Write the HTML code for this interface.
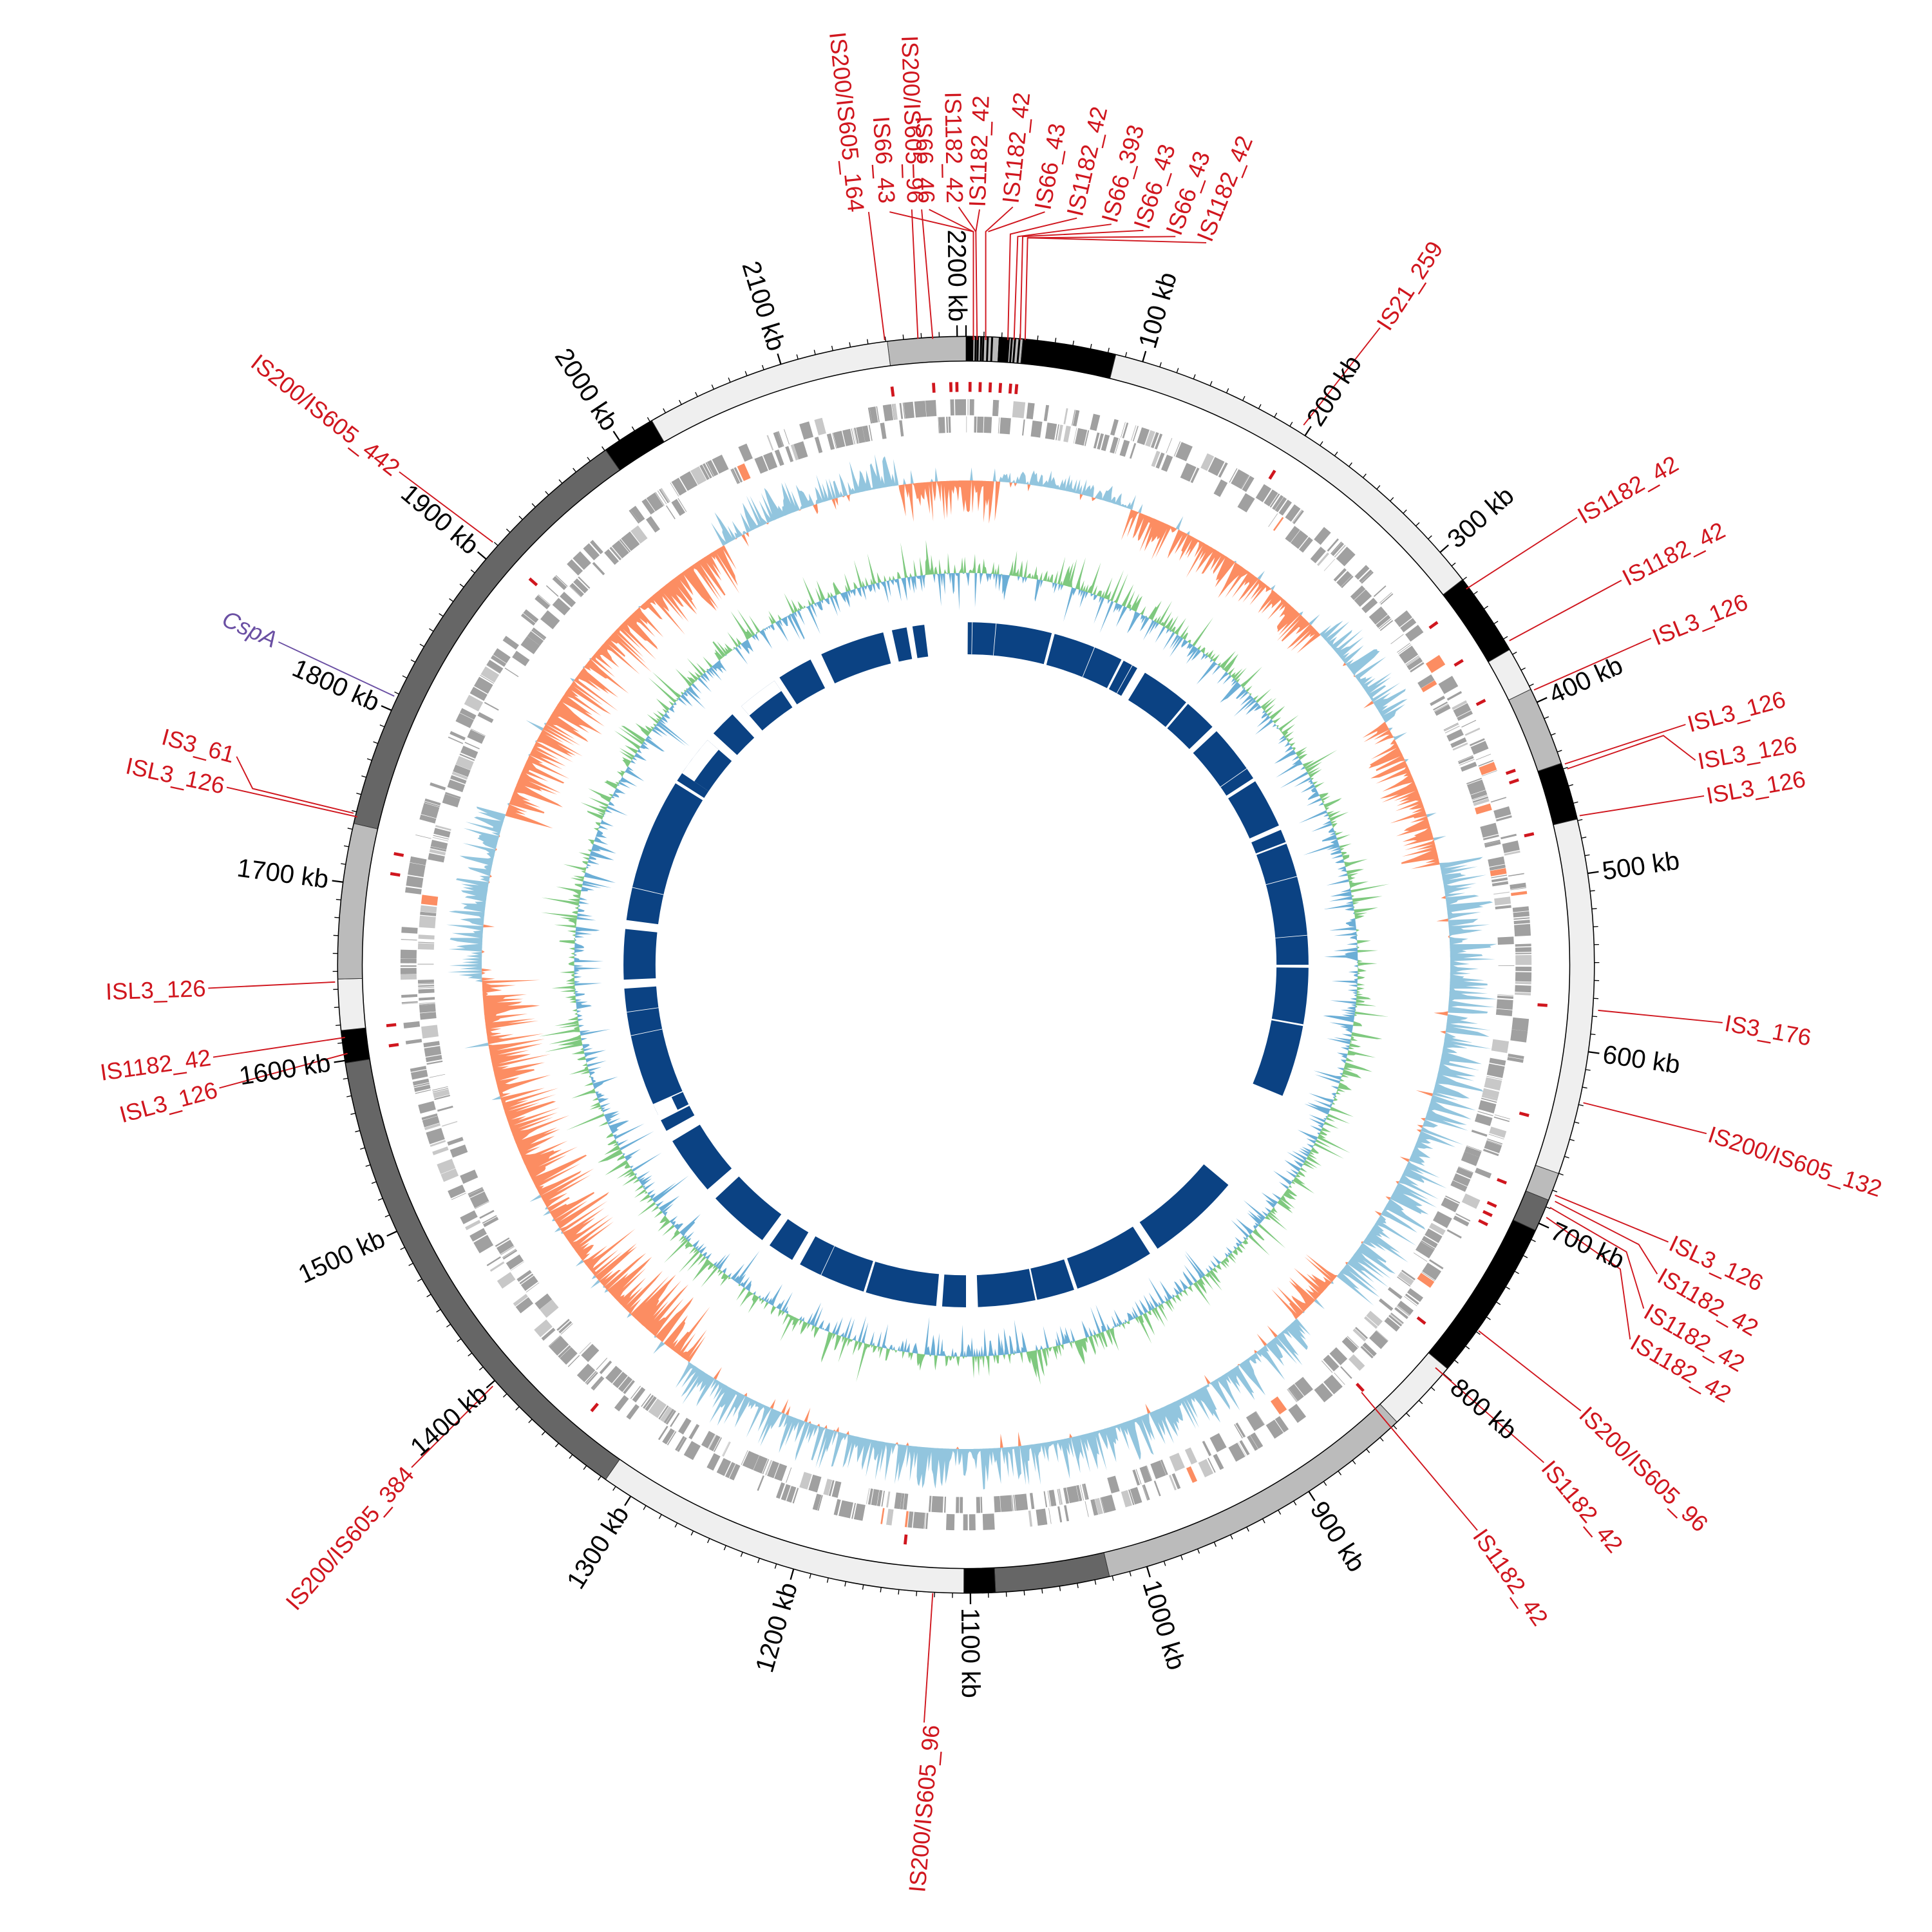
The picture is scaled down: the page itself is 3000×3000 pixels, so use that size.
<!DOCTYPE html>
<html><head><meta charset="utf-8"><style>
html,body{margin:0;padding:0;background:#fff}
svg{display:block}
.t{font-family:"Liberation Sans","DejaVu Sans",sans-serif;font-size:21px;fill:#000;dominant-baseline:central}
.r{font-family:"Liberation Sans","DejaVu Sans",sans-serif;font-size:19px;fill:#d0161e;dominant-baseline:central}
.p{font-family:"Liberation Sans","DejaVu Sans",sans-serif;font-size:19px;fill:#6a4fa3;dominant-baseline:central;font-style:italic}
</style></head><body>
<svg id="s" width="3000" height="3000" viewBox="0 0 1568 1568" xmlns="http://www.w3.org/2000/svg">
<g id="g"></g>
<g id="lead" fill="none" stroke="#d0161e" stroke-width="1"></g>
<g id="labels">
<text class="t" text-anchor="start" transform="translate(930.7,282) rotate(-73.7)">100 kb</text>
<text class="t" text-anchor="start" transform="translate(1065.7,343.5) rotate(-57.3)">200 kb</text>
<text class="t" text-anchor="start" transform="translate(1177.9,440.5) rotate(-41)">300 kb</text>
<text class="t" text-anchor="start" transform="translate(1258.4,565) rotate(-24.7)">400 kb</text>
<text class="t" text-anchor="start" transform="translate(1300.5,707.2) rotate(-8.3)">500 kb</text>
<text class="t" text-anchor="start" transform="translate(1301,855.5) rotate(8)">600 kb</text>
<text class="t" text-anchor="start" transform="translate(1259.7,997.9) rotate(24.3)">700 kb</text>
<text class="t" text-anchor="start" transform="translate(1180.2,1123) rotate(40.6)">800 kb</text>
<text class="t" text-anchor="start" transform="translate(1068.6,1220.6) rotate(57)">900 kb</text>
<text class="t" text-anchor="start" transform="translate(934,1283) rotate(73.3)">1000 kb</text>
<text class="t" text-anchor="start" transform="translate(787.4,1305) rotate(89.6)">1100 kb</text>
<text class="t" text-anchor="end" transform="translate(640.4,1284.9) rotate(-74)">1200 kb</text>
<text class="t" text-anchor="end" transform="translate(505.1,1224.3) rotate(-57.7)">1300 kb</text>
<text class="t" text-anchor="end" transform="translate(392.3,1128.1) rotate(-41.4)">1400 kb</text>
<text class="t" text-anchor="end" transform="translate(311.1,1004) rotate(-25)">1500 kb</text>
<text class="t" text-anchor="end" transform="translate(268.1,862.2) rotate(-8.7)">1600 kb</text>
<text class="t" text-anchor="end" transform="translate(266.6,713.9) rotate(7.6)">1700 kb</text>
<text class="t" text-anchor="end" transform="translate(306.9,571.2) rotate(23.9)">1800 kb</text>
<text class="t" text-anchor="end" transform="translate(385.6,445.6) rotate(40.3)">1900 kb</text>
<text class="t" text-anchor="end" transform="translate(496.6,347.2) rotate(56.6)">2000 kb</text>
<text class="t" text-anchor="end" transform="translate(630.8,284) rotate(72.9)">2100 kb</text>
<text class="t" text-anchor="end" transform="translate(777.2,261) rotate(89.3)">2200 kb</text>

<text class="r" text-anchor="start" transform="translate(1122,266) rotate(-57)">IS21_259</text>
<text class="r" text-anchor="start" transform="translate(1282,420) rotate(-30)">IS1182_42</text>
<text class="r" text-anchor="start" transform="translate(1318,470) rotate(-27)">IS1182_42</text>
<text class="r" text-anchor="start" transform="translate(1342,518) rotate(-22)">ISL3_126</text>
<text class="r" text-anchor="start" transform="translate(1370,588) rotate(-15)">ISL3_126</text>
<text class="r" text-anchor="start" transform="translate(1378,618) rotate(-10)">ISL3_126</text>
<text class="r" text-anchor="start" transform="translate(1385,646) rotate(-10)">ISL3_126</text>
<text class="r" text-anchor="start" transform="translate(1400,830) rotate(10)">IS3_176</text>
<text class="r" text-anchor="start" transform="translate(1387,920) rotate(18)">IS200/IS605_132</text>
<text class="r" text-anchor="start" transform="translate(1356,1008) rotate(25)">ISL3_126</text>
<text class="r" text-anchor="start" transform="translate(1347,1034) rotate(30)">IS1182_42</text>
<text class="r" text-anchor="start" transform="translate(1336,1063) rotate(30)">IS1182_42</text>
<text class="r" text-anchor="start" transform="translate(1325,1088) rotate(30)">IS1182_42</text>
<text class="r" text-anchor="start" transform="translate(1285,1145) rotate(44)">IS200/IS605_96</text>
<text class="r" text-anchor="start" transform="translate(1255,1188) rotate(50)">IS1182_42</text>
<text class="r" text-anchor="start" transform="translate(1200,1243) rotate(55)">IS1182_42</text>
<text class="r" text-anchor="end" transform="translate(756,1400) rotate(-85)">IS200/IS605_96</text>
<text class="r" text-anchor="end" transform="translate(332,1193) rotate(-49)">IS200/IS605_384</text>
<text class="r" text-anchor="end" transform="translate(171,858) rotate(-8)">IS1182_42</text>
<text class="r" text-anchor="end" transform="translate(176,884) rotate(-15)">ISL3_126</text>
<text class="r" text-anchor="end" transform="translate(167,802) rotate(-2)">ISL3_126</text>
<text class="r" text-anchor="end" transform="translate(182,638) rotate(12)">ISL3_126</text>
<text class="r" text-anchor="end" transform="translate(190,613) rotate(15)">IS3_61</text>
<text class="p" text-anchor="end" transform="translate(224,520) rotate(24)">CspA</text>
<text class="r" text-anchor="end" transform="translate(322,382) rotate(38)">IS200/IS605_442</text>

<text class="r" text-anchor="end" transform="translate(695,172) rotate(84)">IS200/IS605_164</text>
<text class="r" text-anchor="end" transform="translate(720,165) rotate(86)">IS66_43</text>
<text class="r" text-anchor="end" transform="translate(743,165) rotate(88)">IS200/IS605_96</text>
<text class="r" text-anchor="end" transform="translate(752,165) rotate(88)">IS66_46</text>
<text class="r" text-anchor="end" transform="translate(775,165) rotate(89)">IS1182_42</text>
<text class="r" text-anchor="start" transform="translate(793,168) rotate(-88)">IS1182_42</text>
<text class="r" text-anchor="start" transform="translate(820,165) rotate(-84)">IS1182_42</text>
<text class="r" text-anchor="start" transform="translate(846,170) rotate(-80)">IS66_43</text>
<text class="r" text-anchor="start" transform="translate(872,175) rotate(-77)">IS1182_42</text>
<text class="r" text-anchor="start" transform="translate(900,180) rotate(-74)">IS66_393</text>
<text class="r" text-anchor="start" transform="translate(926,185) rotate(-72)">IS66_43</text>
<text class="r" text-anchor="start" transform="translate(952,190) rotate(-70)">IS66_43</text>
<text class="r" text-anchor="start" transform="translate(977,195) rotate(-68)">IS1182_42</text>
</g>
</svg>
<script>
(function(){
var NS="http://www.w3.org/2000/svg",g=document.getElementById("g"),ld=document.getElementById("lead");
var cx=784,cy=783;
var seed=12345;function rnd(){seed=(seed*16807)%2147483647;return (seed-1)/2147483646;}
function P(r,a){a=a*Math.PI/180;return [cx+r*Math.sin(a),cy-r*Math.cos(a)];}
function el(n,at,par){var e=document.createElementNS(NS,n);for(var k in at)e.setAttribute(k,at[k]);(par||g).appendChild(e);return e;}
function arc(r1,r2,a1,a2){var p1=P(r2,a1),p2=P(r2,a2),p3=P(r1,a2),p4=P(r1,a1);var l=(a2-a1)>180?1:0;
return "M"+p1[0].toFixed(2)+","+p1[1].toFixed(2)+"A"+r2+","+r2+" 0 "+l+" 1 "+p2[0].toFixed(2)+","+p2[1].toFixed(2)+"L"+p3[0].toFixed(2)+","+p3[1].toFixed(2)+"A"+r1+","+r1+" 0 "+l+" 0 "+p4[0].toFixed(2)+","+p4[1].toFixed(2)+"Z";}
var segs=[[-7.2,0,"#bbb"],[0,5.2,"#bbb"],[5.2,13.8,"#000"],[13.8,52.2,"#efefef"],[52.2,59.9,"#000"],[59.9,64,"#efefef"],[64,71.3,"#bbb"],[71.3,76.6,"#000"],[76.6,109.4,"#efefef"],[109.4,112,"#bbb"],[112,115,"#666"],[115,130,"#000"],[130,136.7,"#efefef"],[136.7,166.8,"#bbb"],[166.8,177.3,"#666"],[177.3,180.2,"#000"],[180.2,215,"#efefef"],[215,261,"#666"],[261,264,"#000"],[264,268.7,"#efefef"],[268.7,283,"#bbb"],[283,325,"#666"],[325,330,"#000"],[330,352.8,"#efefef"]];
segs.forEach(function(s){el("path",{d:arc(490,510,s[0],s[1]),fill:s[2],stroke:"#333","stroke-width":0.5});});
var st=[0.2,0.5,0.8,1.0,1.3,1.5,1.9,2.3,3.0,3.2,3.5,3.7,4.1,4.4,4.8];
st.forEach(function(a){el("path",{d:arc(490,510,a,a+0.18),fill:"#000"});});
el("path",{d:arc(490,510,0.0,0.6),fill:"#000"});el("path",{d:arc(490,510,3.0,4.0),fill:"#000"});
el("circle",{cx:cx,cy:cy,r:510,fill:"none",stroke:"#000","stroke-width":0.8});
el("circle",{cx:cx,cy:cy,r:490,fill:"none",stroke:"#000","stroke-width":0.8});
for(var k=0;k<=2200;k+=10){var a=k*0.16327;var maj=k%100==0;var p1=P(510,a),p2=P(maj?519:514,a);
el("line",{x1:p1[0],y1:p1[1],x2:p2[0],y2:p2[1],stroke:"#000","stroke-width":maj?1.2:0.7});}
var rm=[-7.3,-3.2,-1.5,-0.9,0.4,1.4,2.4,3.4,4.4,5.0,32,54,58.5,63,70.5,71.5,77,94,105,112,114.5,115.5,116.5,128,137,186,220,262,264,279,281,311.5];
rm.forEach(function(a){el("path",{d:arc(465,473,a-0.15,a+0.15),fill:"#d0161e"});});
// gene track
var t=-7;while(t<353){var len=0.05+Math.pow(rnd(),2)*1.2;var row=rnd()<0.5;var c=rnd()<0.02?"#fc8d62":(rnd()<0.15?"#c8c8c8":"#a0a0a0");
if(row)el("path",{d:arc(446,459,t,t+len),fill:c});else el("path",{d:arc(432,445,t,t+len),fill:c});
t+=len+rnd()*0.15;}
var skew=[[-35,-27,-1,25],[-27,-8,1,28],[-8,4,-1,35],[4,20,1,14],[20,47,-1,32],[47,60,1,30],[60,78,-1,32],[78,130,1,40],[130,137,-1,32],[137,215,1,34],[215,268,-1,50],[268,288,1,30],[288,330,-1,45],[330,352,1,28]];
function sk(a){var aa=a>352?a-360:a;for(var i=0;i<skew.length;i++){var s=skew[i];if(aa>=s[0]&&aa<s[1])return s;}return [0,0,1,10];}
var N=2000,B=393;var vals=[];
for(var i=0;i<=N;i++){var a=-8+360*i/N;var s=sk(a);var v=s[2]*s[3]*(0.05+0.95*Math.pow(rnd(),1.6));if(rnd()<0.06)v=-v*0.4;vals.push([a,v]);}
function area(vals,B,sign){var d="";vals.forEach(function(q,i){var v=sign>0?Math.max(q[1],0):Math.min(q[1],0);var p=P(B+v,q[0]);d+=(i?"L":"M")+p[0].toFixed(1)+","+p[1].toFixed(1);});
for(var i=vals.length-1;i>=0;i--){var p=P(B,vals[i][0]);d+="L"+p[0].toFixed(1)+","+p[1].toFixed(1);}return d+"Z";}
el("path",{d:area(vals,B,1),fill:"#92c5de"});el("path",{d:area(vals,B,-1),fill:"#fc8d62"});
var v2=[];for(var i=0;i<=N;i++){var a=360*i/N;var v=(rnd()-0.5)*2;v=v*(6+30*Math.pow(rnd(),2.5));v2.push([a,v]);}
el("path",{d:area(v2,318,1),fill:"#7fc97f"});el("path",{d:area(v2,318,-1),fill:"#6baed6"});
var blocks=[[0.3,112.5],[130,353]];
var gaps=[[14.5,15],[27,27.4],[30,31.5],[40,40.4],[46,47],[57,57.6],[66,66.8],[69,69.3],[90,90.5],[100,100.3],[146,147.5],[161,161.6],[168,168.3],[178,180],[184,185],[197,197.4],[209,210.5],[215,216.5],[227,229],[239,241],[243,244],[266,267.5],[276,277.5],[302,302.5],[311,312.5],[317,319],[326,327],[333,335],[346,347.5],[350,351]];
blocks.forEach(function(b){var cuts=[b[0]];gaps.forEach(function(gp){if(gp[0]>b[0]&&gp[1]<b[1]){cuts.push(gp[0]);cuts.push(gp[1]);}});cuts.push(b[1]);
for(var i=0;i<cuts.length;i+=2){el("path",{d:arc(252,278,cuts[i],cuts[i+1]),fill:"#0b4283"});}});
[[1,1.1],[5,5.1],[22,22.1],[29,29.1],[55,55.1],[75,75.1],[85,85.1],[205,205.1],[258,258.1],[262,262.1],[283,283.1]].forEach(function(gp){el("path",{d:arc(252,278,gp[0],gp[1]),fill:"#fff"});});
el("path",{d:arc(252,278,243,246),fill:"#fff"});el("path",{d:arc(252,262,243.3,245.8),fill:"#0b4283"});
el("path",{d:arc(252,278,304,311),fill:"#fff"});el("path",{d:arc(252,266,304,311),fill:"#0b4283"});
el("path",{d:arc(252,278,319,326),fill:"#fff"});el("path",{d:arc(252,268,319,326),fill:"#0b4283"});
var L=[[1058,345,1120,266],[1190,478,1280,420],[1225,520,1316,471],[1245,560,1340,518],[1270,620,1368,588],[1272,624,1350,597,1376,617],[1282,662,1383,646],[1297,820,1398,830],[1285,895,1385,920],[1262,970,1354,1008],[1262,975,1330,1010,1345,1034],[1258,980,1320,1016,1334,1062],[1255,988,1315,1030,1323,1087],[1200,1080,1283,1145],[1165,1110,1253,1187],[1105,1130,1199,1242],
[757,1293,750,1398],[400,1125,334,1191],[280,842,173,858],[282,855,178,883],[272,797,169,802],[290,663,184,639],[287,660,205,640,192,614],[400,440,324,383],
[718,276,705,172],[757,275,748,170],[745,275,740,170],[722,172,790,188,790,276],[754,170,790,188],[778,168,792,188],[795,170,792,188,793,276],[822,168,800,188,800,276],[848,172,802,188],[874,177,820,190,818,276],[902,182,826,192,823,276],[928,187,830,192,828,276],[954,192,834,193],[979,197,834,193,832,276]];
L.forEach(function(q){var pts=[];for(var i=0;i<q.length;i+=2)pts.push(q[i]+","+q[i+1]);el("polyline",{points:pts.join(" ")},ld);});
el("line",{x1:320,y1:565,x2:226,y2:521,stroke:"#6a4fa3","stroke-width":1});
})();
</script>
</body></html>
